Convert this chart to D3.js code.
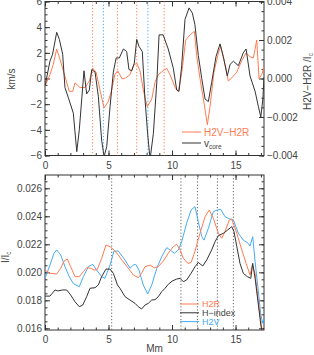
<!DOCTYPE html>
<html lang="en">
  <head>
    <meta charset="utf-8">
    <title>vcore and H2V-H2R</title>
    <script src="https://cdn.jsdelivr.net/npm/d3@7"></script>
    <style>
      body { margin: 0; background: #fff; }
      text { font-family: "Liberation Sans", Arial, sans-serif; fill: #444; }
    </style>
  </head>
  <body>
    <script>

      // top panel: core velocity (km/s) and H2V-H2R (units of 1e-3 I_c)
      var vcore = [[0,-0.6],[0.39,1.35],[0.6,1.9],[0.92,3.6],[1.13,3.05],[1.39,1.9],[1.57,-0.7],[1.84,-1.5],[2.1,-2.3],[2.23,-2.7],[2.5,-5.7],[2.7,-4.0],[2.9,-1.5],[3.07,0.6],[3.28,-1.2],[3.49,-0.9],[3.68,0.7],[3.94,0.5],[4.2,-1.4],[4.46,-4.8],[4.65,-6.1],[4.86,-5.3],[5.12,-2.2],[5.38,0.5],[5.6,1.6],[5.85,1.6],[6.17,2.3],[6.43,2.1],[6.61,0.7],[6.83,0.6],[7.03,1.2],[7.22,3.05],[7.4,2.5],[7.66,2.1],[7.87,-1.6],[8.08,-4.3],[8.27,-6.3],[8.53,-4.3],[8.8,-0.3],[8.98,3.4],[9.3,3.4],[9.7,2.3],[10.1,0.8],[10.37,-0.9],[10.55,-1.0],[10.76,1.0],[11.02,4.6],[11.34,5.5],[11.6,5.1],[11.8,4.2],[12.07,1.8],[12.34,0],[12.6,-1.6],[12.86,-1.8],[13.12,-0.3],[13.46,1.7],[13.78,2.7],[14.04,1.7],[14.35,0.2],[14.57,1.1],[14.83,1.35],[15.22,1.0],[15.61,2.0],[15.83,2.3],[16.14,0.2],[16.54,-1.0],[16.8,-2.2],[16.99,-3.0],[17.15,-1.6],[17.24,0.1]];

      var diffVR = [[0,-0.4],[0.39,0.2],[0.65,0.73],[0.92,1.53],[1.18,1.0],[1.44,0.4],[1.65,-0.07],[1.91,-0.67],[2.18,-0.67],[2.36,-0.23],[2.54,-0.33],[2.76,-0.47],[3.15,-0.47],[3.49,-0.13],[3.76,0.53],[4.02,0.33],[4.33,-0.6],[4.65,-1.53],[4.98,-1.2],[5.25,-0.6],[5.5,0.2],[5.72,0.4],[6.09,-0.03],[6.35,0.03],[6.69,0.2],[6.95,0.67],[7.22,0.8],[7.48,0.4],[7.74,-0.6],[8.05,-1.47],[8.4,-1.07],[8.66,-0.2],[8.92,0.2],[9.3,0.4],[9.58,0.53],[9.84,0.2],[10.24,-0.47],[10.5,-0.67],[10.76,0.27],[11.08,2.0],[11.42,2.27],[11.76,2.45],[11.94,1.2],[12.2,0],[12.52,-1.27],[12.78,-2.4],[12.99,-1.47],[13.3,0.33],[13.65,1.33],[13.83,1.67],[14.17,0.73],[14.43,-0.13],[14.7,0.03],[15.1,0.33],[15.49,0.93],[15.83,1.33],[16.14,1.13],[16.4,1.07],[16.67,2.0],[16.85,0.0],[17.06,0.2],[17.24,0.6]];

      // bottom panel: intensities (units of 1e-3 I_c)
      var h2r = [[0,20.16],[0.39,19.93],[0.92,19.88],[1.24,20.29],[1.5,20.8],[1.76,20.95],[2.02,20.4],[2.36,19.69],[2.7,19.69],[3.02,20.04],[3.28,20.33],[3.6,20.29],[3.86,20.16],[4.12,20.2],[4.46,21.0],[4.8,21.95],[5.12,21.83],[5.43,21.6],[5.77,21.24],[6.04,20.88],[6.56,20.29],[6.95,19.81],[7.35,19.62],[7.61,19.93],[7.87,20.4],[8.27,20.52],[8.61,20.33],[8.92,20.4],[9.31,20.8],[9.7,21.36],[10.1,21.83],[10.37,22.0],[10.63,21.6],[10.89,21.0],[11.24,20.64],[11.5,20.7],[11.76,21.36],[12.2,22.79],[12.6,23.97],[12.93,24.45],[13.25,23.86],[13.65,22.79],[13.91,22.43],[14.17,22.9],[14.51,23.74],[14.7,23.8],[15.1,22.79],[15.49,21.6],[15.83,20.64],[16.14,19.81],[16.32,20.52],[16.54,19.9],[16.8,17.9],[16.99,16.47],[17.15,15.5]];

      var hindex = [[0,18.3],[0.39,18.3],[0.79,18.74],[1.0,18.67],[1.39,18.74],[1.71,18.74],[2.02,18.38],[2.36,17.9],[2.7,17.54],[2.97,17.66],[3.28,18.26],[3.54,18.86],[3.94,18.9],[4.2,19.1],[4.46,19.69],[4.8,20.23],[5.12,20.23],[5.38,19.93],[5.7,19.1],[5.9,18.86],[6.3,18.26],[6.69,18.02],[7.09,17.78],[7.35,17.54],[7.61,17.38],[7.87,17.66],[8.13,17.78],[8.4,18.02],[8.66,18.05],[8.92,18.26],[9.19,18.62],[9.45,18.86],[9.7,19.14],[10.02,19.38],[10.37,19.52],[10.63,19.57],[10.89,19.33],[11.15,19.45],[11.5,19.93],[11.81,20.4],[12.07,20.7],[12.42,20.45],[12.73,20.88],[13.12,21.6],[13.39,22.19],[13.65,22.62],[14.04,22.79],[14.35,23.0],[14.7,23.26],[14.88,22.9],[15.1,21.83],[15.35,20.64],[15.61,19.93],[15.93,19.69],[16.2,19.57],[16.35,20.64],[16.54,19.57],[16.8,17.66],[16.99,16.24],[17.15,15.5]];

      var h2v = [[0,19.57],[0.39,20.52],[0.71,21.36],[0.92,21.6],[1.24,21.24],[1.57,20.4],[1.91,19.69],[2.23,19.2],[2.7,18.97],[3.02,19.69],[3.41,20.4],[3.76,20.57],[4.07,20.16],[4.46,19.69],[4.72,19.57],[5.12,20.52],[5.43,21.52],[5.77,21.52],[6.3,20.88],[6.69,20.29],[6.95,20.52],[7.14,20.57],[7.4,20.16],[7.74,19.09],[8.08,18.45],[8.4,19.09],[8.8,20.29],[9.19,21.12],[9.58,21.76],[9.84,21.6],[10.18,21.36],[10.5,21.6],[10.76,22.19],[11.15,23.5],[11.5,24.45],[11.81,24.69],[12.07,23.6],[12.34,22.55],[12.52,22.3],[12.86,23.14],[13.25,24.33],[13.57,24.45],[13.83,24.5],[14.17,23.97],[14.57,23.8],[14.83,23.74],[15.22,22.79],[15.61,22.3],[16.0,22.07],[16.14,21.88],[16.35,22.55],[16.54,20.76],[16.8,18.6],[16.99,16.95],[17.15,16.36],[17.24,16.7]];

      // marker positions (Mm)
      var topRedMarks = [3.75, 5.7, 7.22, 9.38];
      var topBlueMarks = [4.6, 8.1];
      var botMarks = [5.25, 10.7, 12.0, 13.57, 14.83];

      var xTicks = [0, 5, 10, 15];
      var vTicks = [-6, -4, -2, 0, 2, 4, 6];
      var dTicks = [-0.004, -0.002, 0, 0.002, 0.004];
      var iTicks = [0.016, 0.018, 0.020, 0.022, 0.024, 0.026];

      var red = "#ff7b52", blue = "#45acf5", dark = "#333";

      var W = 314, H = 355;
      var L = 45, R = 264;
      var top1 = 1.5, bot1 = 155.5;
      var top2 = 175, bot2 = 330;

      var svg = d3.select("body").append("svg")
                  .attr("width", W)
                  .attr("height", H);

      var x = d3.scaleLinear().domain([0, 17.24]).range([L, R]);
      var yV = d3.scaleLinear().domain([-6, 6]).range([bot1, top1]);
      var yD = d3.scaleLinear().domain([-0.004, 0.004]).range([bot1, top1]);
      var yI = d3.scaleLinear().domain([0.01588, 0.02695]).range([bot2, top2]);

      function clip(id, y0, y1) {
        svg.append("clipPath").attr("id", id)
           .append("rect").attr("x", L).attr("y", y0).attr("width", R - L).attr("height", y1 - y0);
      }
      clip("c1", top1, bot1);
      clip("c2", top2, bot2);

      function minor(lo, hi, step) {
        return d3.range(Math.round((hi - lo) / step) + 1).map(function(i) { return lo + i * step; });
      }

      // draw IDL-like box axes with inward ticks
      function box(y0, y1, yScale, yMaj, yMin, yFmt, rScale, rMaj, rMin, rFmt, xLabels) {
        var g = svg.append("g");
        var xMin = minor(0, 17, 1);

        g.append("g").attr("transform", "translate(0," + y1 + ")")
         .call(d3.axisBottom(x).tickValues(xTicks).tickSizeInner(-5).tickSizeOuter(0).tickPadding(6)
               .tickFormat(xLabels ? d3.format("d") : ""));
        g.append("g").attr("transform", "translate(0," + y1 + ")")
         .call(d3.axisBottom(x).tickValues(xMin).tickSizeInner(-2.5).tickSizeOuter(0).tickFormat(""));
        g.append("g").attr("transform", "translate(0," + y0 + ")")
         .call(d3.axisTop(x).tickValues(xTicks).tickSizeInner(-5).tickSizeOuter(0).tickFormat(""));
        g.append("g").attr("transform", "translate(0," + y0 + ")")
         .call(d3.axisTop(x).tickValues(xMin).tickSizeInner(-2.5).tickSizeOuter(0).tickFormat(""));

        g.append("g").attr("transform", "translate(" + L + ",0)")
         .call(d3.axisLeft(yScale).tickValues(yMaj).tickSizeInner(-5).tickSizeOuter(0).tickPadding(3).tickFormat(yFmt));
        g.append("g").attr("transform", "translate(" + L + ",0)")
         .call(d3.axisLeft(yScale).tickValues(yMin).tickSizeInner(-2.5).tickSizeOuter(0).tickFormat(""));

        g.append("g").attr("transform", "translate(" + R + ",0)")
         .call(d3.axisRight(rScale).tickValues(rMaj).tickSizeInner(-5).tickSizeOuter(0).tickPadding(3).tickFormat(rFmt));
        g.append("g").attr("transform", "translate(" + R + ",0)")
         .call(d3.axisRight(rScale).tickValues(rMin).tickSizeInner(-2.5).tickSizeOuter(0).tickFormat(""));

        g.selectAll(".domain").remove();
        g.selectAll(".tick line").attr("stroke", dark);
        g.selectAll(".tick text").attr("font-size", 10).attr("fill", "#444")
         .attr("font-family", "'Liberation Sans', Arial, sans-serif");

        svg.append("rect").attr("x", L).attr("y", y0).attr("width", R - L).attr("height", y1 - y0)
           .attr("fill", "none").attr("stroke", dark).attr("stroke-width", 1);
      }

      box(top1, bot1, yV, vTicks, minor(-6, 6, 0.5), d3.format("d"),
          yD, dTicks, minor(-0.004, 0.004, 0.0005), d3.format(".3f"), true);
      box(top2, bot2, yI, iTicks, minor(0.016, 0.0265, 0.0005), d3.format(".3f"),
          yI, iTicks, minor(0.016, 0.0265, 0.0005), "", true);

      // dotted markers
      function marks(vals, y0, y1, color) {
        svg.append("g").selectAll("line").data(vals).enter().append("line")
           .attr("x1", function(d) { return x(d); }).attr("x2", function(d) { return x(d); })
           .attr("y1", y0).attr("y2", y1)
           .attr("stroke", color).attr("stroke-width", 1).attr("stroke-dasharray", "1.2,2");
      }
      marks(topRedMarks, top1, bot1, red);
      marks(topBlueMarks, top1, bot1, blue);
      marks(botMarks, top2, bot2, "#666");

      function curve(data, yScale, scaleBy, color, clipId) {
        var line = d3.line()
                     .x(function(d) { return x(d[0]); })
                     .y(function(d) { return yScale(d[1] * scaleBy); });
        svg.append("path").datum(data)
           .attr("d", line)
           .attr("clip-path", "url(#" + clipId + ")")
           .attr("fill", "none").attr("stroke", color).attr("stroke-width", 1)
           .attr("stroke-linejoin", "round");
      }

      curve(diffVR, yD, 1e-3, red, "c1");
      curve(vcore, yV, 1, dark, "c1");

      curve(h2v, yI, 1e-3, blue, "c2");
      curve(h2r, yI, 1e-3, red, "c2");
      curve(hindex, yI, 1e-3, dark, "c2");

      // legends
      function legend(items, x0, y0, dy, fs) {
        items.forEach(function(it, i) {
          var yy = y0 + i * dy;
          svg.append("line").attr("x1", x0).attr("x2", x0 + 19).attr("y1", yy).attr("y2", yy)
             .attr("stroke", it.color).attr("stroke-width", 1);
          var t = svg.append("text").attr("x", x0 + 22).attr("y", yy + fs * 0.36)
                     .attr("font-size", fs).style("fill", it.text);
          t.append("tspan").text(it.label);
          if (it.sub) t.append("tspan").attr("font-size", 6.5).attr("dy", 2).text(it.sub);
        });
      }
      legend([{label: "H2V\u2212H2R", color: red, text: red},
              {label: "v", sub: "core", color: dark, text: "#444"}], 182, 132, 11, 10);
      legend([{label: "H2R", color: red, text: red},
              {label: "H\u2212index", color: dark, text: "#444"},
              {label: "H2V", color: blue, text: blue}], 180, 304, 8.8, 9);

      // axis titles
      svg.append("text").attr("transform", "translate(15,79) rotate(-90)")
         .attr("text-anchor", "middle").attr("font-size", 10).text("km/s");

      var rt = svg.append("text").attr("transform", "translate(311,110) rotate(-90)")
                  .attr("font-size", 10);
      rt.append("tspan").text("H2V\u2212H2R  /I");
      rt.append("tspan").attr("font-size", 6.5).attr("dy", 2).text("c");

      var lt = svg.append("text").attr("transform", "translate(9,263) rotate(-90)")
                  .attr("font-size", 10);
      lt.append("tspan").text("I/I");
      lt.append("tspan").attr("font-size", 6.5).attr("dy", 2).text("c");

      svg.append("text").attr("x", (L + R) / 2).attr("y", 352)
         .attr("text-anchor", "middle").attr("font-size", 10).text("Mm");

    </script>
  </body>
</html>
